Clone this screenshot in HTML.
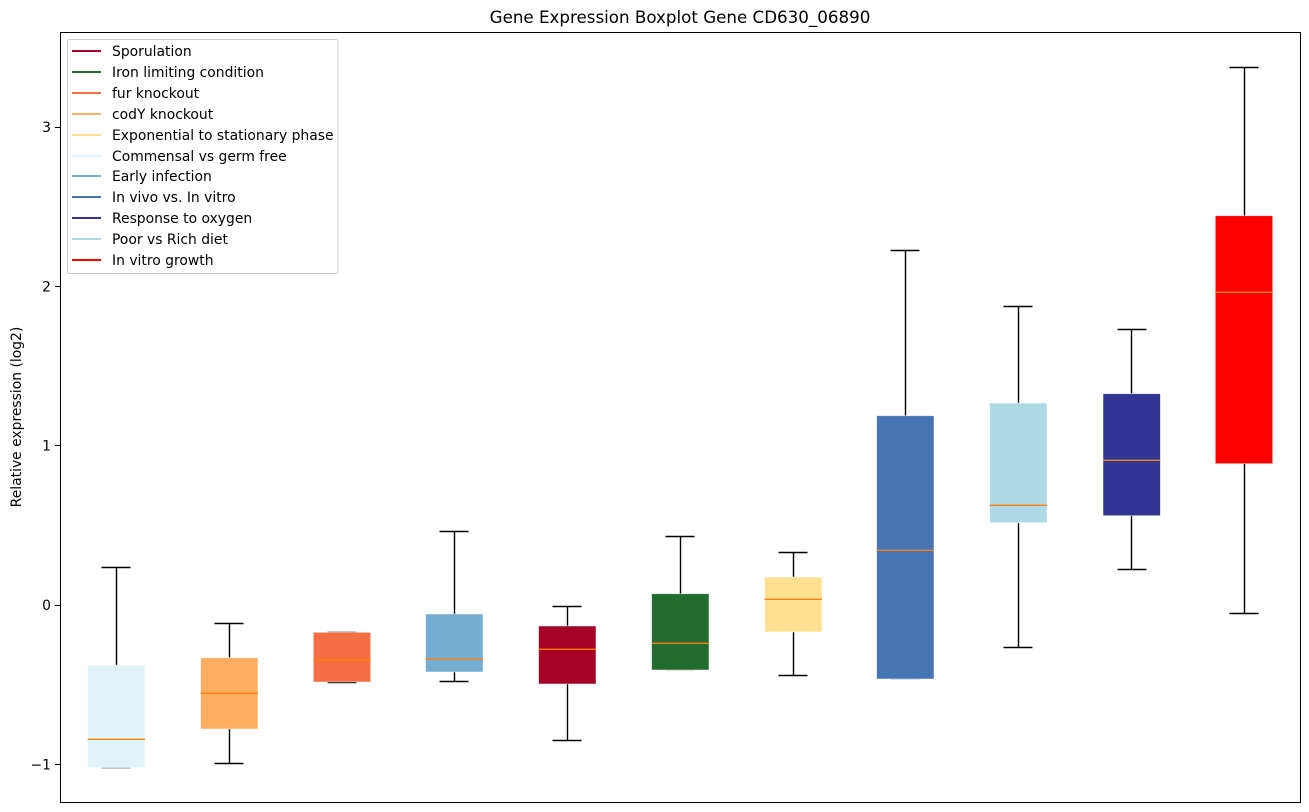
<!DOCTYPE html>
<html><head><meta charset="utf-8"><style>
html,body{margin:0;padding:0;background:#fff;}
svg{display:block;font-family:"DejaVu Sans","Liberation Sans",sans-serif;}
</style></head><body>
<svg width="1309" height="812" viewBox="0 0 1309 812" xmlns="http://www.w3.org/2000/svg">
<rect x="0" y="0" width="1309" height="812" fill="#fff"/>
<text x="680" y="23" font-size="16.7" text-anchor="middle" fill="#000">Gene Expression Boxplot Gene CD630_06890</text>
<g stroke="#000" stroke-width="1.4" fill="none">
<path d="M116.5 567V665 M101.5 567.5H130.5 M101.5 767.5H130.5"/>
<path d="M229.5 623V657.7 M214.5 623.5H243.5 M229.5 729V763 M214.5 763.5H243.5"/>
<path d="M327.5 632.5H356.5 M327.5 682.5H356.5"/>
<path d="M454.5 531V614 M439.5 531.5H468.5 M454.5 672V681 M439.5 681.5H468.5"/>
<path d="M567.5 606V626 M552.5 606.5H581.5 M567.5 684V740 M552.5 740.5H581.5"/>
<path d="M680.5 536V593.7 M665.5 536.5H694.5 M665.5 669.5H694.5"/>
<path d="M793.5 552V577 M778.5 552.5H807.5 M793.5 632V675 M778.5 675.5H807.5"/>
<path d="M905.5 250V415.7 M890.5 250.5H919.5 M890.5 678.5H919.5"/>
<path d="M1018.5 306V403 M1003.5 306.5H1032.5 M1018.5 522.7V647 M1003.5 647.5H1032.5"/>
<path d="M1131.5 329V393.7 M1117.5 329.5H1146.5 M1131.5 515.7V569 M1117.5 569.5H1146.5"/>
<path d="M1244.5 67V215.7 M1229.5 67.5H1258.5 M1244.5 463.7V613 M1229.5 613.5H1258.5"/>
</g>
<g stroke="#ffffff" stroke-opacity="0.6" stroke-width="0.8">
<rect x="87.6" y="665" width="57.4" height="102.7" fill="#e0f3f8"/>
<rect x="200.6" y="657.7" width="57.4" height="71.3" fill="#fdae61"/>
<rect x="313.3" y="632.3" width="57.4" height="49.7" fill="#f46d43"/>
<rect x="425.6" y="614" width="57.4" height="58" fill="#74add1"/>
<rect x="538.6" y="626" width="57.4" height="58" fill="#a50026"/>
<rect x="651.6" y="593.7" width="57.4" height="76.3" fill="#236c2f"/>
<rect x="764.6" y="577" width="57.4" height="55" fill="#fee090"/>
<rect x="876.6" y="415.7" width="57.4" height="263.3" fill="#4575b4"/>
<rect x="989.6" y="403" width="57.4" height="119.7" fill="#add8e6"/>
<rect x="1103" y="393.7" width="57.4" height="122" fill="#313695"/>
<rect x="1215.3" y="215.7" width="57.4" height="248" fill="#ff0000"/>
</g>
<g stroke="#ff7f0e" stroke-width="1.3" fill="none">
<path d="M87.6 739.3H145"/>
<path d="M200.6 693.3H258"/>
<path d="M313.3 660.3H370.7"/>
<path d="M425.6 659.3H483"/>
<path d="M538.6 649.3H596"/>
<path d="M651.6 643.3H709"/>
<path d="M764.6 599.3H822"/>
<path d="M876.6 550.3H934"/>
<path d="M989.6 505.3H1047"/>
<path d="M1103 460.3H1160.4"/>
<path d="M1215.3 292.3H1272.7"/>
</g>
<rect x="60.5" y="32.5" width="1240" height="770" fill="none" stroke="#000" stroke-width="1"/>
<g stroke="#000" stroke-width="1">
<path d="M55 764.5H60 M55 605.5H60 M55 445.5H60 M55 286.5H60 M55 127.5H60"/>
</g>
<g font-size="13.9" fill="#000" text-anchor="end">
<text x="51" y="769.3">−1</text>
<text x="51" y="610">0</text>
<text x="51" y="450.7">1</text>
<text x="51" y="291.4">2</text>
<text x="51" y="132.1">3</text>
</g>
<text transform="translate(21,417) rotate(-90)" font-size="13.9" text-anchor="middle" fill="#000">Relative expression (log2)</text>
<rect x="67.5" y="39.5" width="270.5" height="234" rx="2" fill="#fff" fill-opacity="0.8" stroke="#cccccc" stroke-width="1"/>
<g stroke-width="2">
<path d="M72 51H101" stroke="#a50026"/>
<path d="M72 72H101" stroke="#236c2f"/>
<path d="M72 93H101" stroke="#f46d43"/>
<path d="M72 114H101" stroke="#fdae61"/>
<path d="M72 135H101" stroke="#fee090"/>
<path d="M72 156H101" stroke="#e0f3f8"/>
<path d="M72 176H101" stroke="#74add1"/>
<path d="M72 197H101" stroke="#4575b4"/>
<path d="M72 218H101" stroke="#313695"/>
<path d="M72 239H101" stroke="#add8e6"/>
<path d="M72 260H101" stroke="#ff0000"/>
</g>
<g font-size="13.9" fill="#000">
<text x="112" y="56">Sporulation</text>
<text x="112" y="77">Iron limiting condition</text>
<text x="112" y="98">fur knockout</text>
<text x="112" y="119">codY knockout</text>
<text x="112" y="140">Exponential to stationary phase</text>
<text x="112" y="161">Commensal vs germ free</text>
<text x="112" y="181">Early infection</text>
<text x="112" y="202">In vivo vs. In vitro</text>
<text x="112" y="223">Response to oxygen</text>
<text x="112" y="244">Poor vs Rich diet</text>
<text x="112" y="265">In vitro growth</text>
</g>
</svg>
</body></html>
